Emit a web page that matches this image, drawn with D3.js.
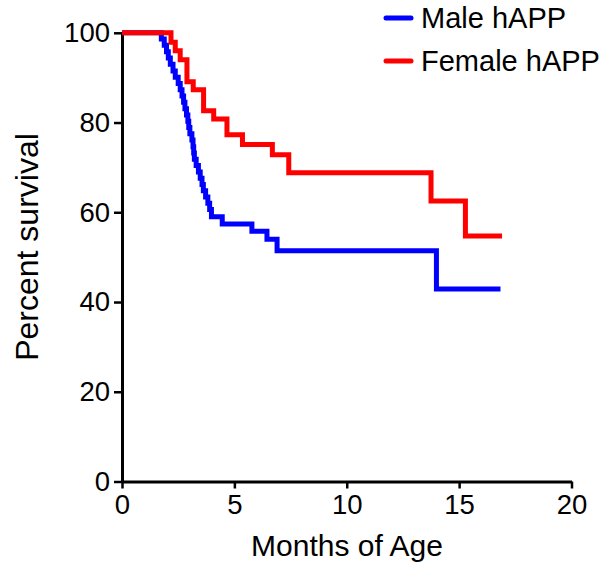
<!DOCTYPE html>
<html>
<head>
<meta charset="utf-8">
<script src="https://cdn.jsdelivr.net/npm/d3@7"></script>
<style>
  html, body { margin: 0; padding: 0; background: #fff; }
  svg { display: block; font-family: "Liberation Sans", Arial, sans-serif; }
</style>
</head>
<body>
<svg id="chart" width="608" height="569"></svg>
<script>
// ---- Data ----
const seriesNames = ["Male hAPP", "Female hAPP"];
const seriesColors = ["#0000ff", "#ff0000"];

const maleMonths = [0, 1.75, 1.88, 1.98, 2.06, 2.15, 2.27, 2.37, 2.50, 2.59, 2.67, 2.74, 2.80, 2.87, 2.93, 2.97,
  3.02, 3.11, 3.16, 3.19, 3.22, 3.30, 3.40, 3.48, 3.56, 3.62, 3.72, 3.82, 3.90, 3.98, 4.46, 5.78, 6.45, 6.90, 13.99, 16.84];
const maleSurvival = [100, 98.6, 97.2, 95.8, 94.4, 93.0, 91.5, 90.1, 88.7, 87.3, 85.9, 84.5, 83.1, 81.7, 80.3, 78.9,
  77.5, 76.1, 74.6, 73.2, 71.8, 70.4, 69.0, 67.6, 66.2, 64.8, 63.4, 62.0, 60.6, 59.0, 57.4, 55.8, 54.0, 51.4, 42.9, 42.9];

const femaleMonths = [0, 2.18, 2.37, 2.59, 2.89, 3.17, 3.63, 4.08, 4.67, 5.36, 6.69, 7.42, 13.75, 15.28, 16.91];
const femaleSurvival = [100, 97.9, 96.0, 94.0, 89.1, 87.3, 82.6, 80.8, 77.3, 75.1, 72.8, 68.8, 62.5, 54.7, 54.7];

const xTicks = [0, 5, 10, 15, 20];
const yTicks = [0, 20, 40, 60, 80, 100];
const xTitle = "Months of Age";
const yTitle = "Percent survival";

// ---- Chart ----
const svg = d3.select("#chart");
const x = d3.scaleLinear().domain([0, 20]).range([122, 571.5]);
const y = d3.scaleLinear().domain([0, 100]).range([481.5, 32.8]);

const xAxis = svg.append("g")
  .attr("transform", `translate(0,${y(0)})`)
  .call(d3.axisBottom(x).tickValues(xTicks).tickSize(7).tickPadding(6).tickSizeOuter(0));
const yAxis = svg.append("g")
  .attr("transform", `translate(${x(0)},0)`)
  .call(d3.axisLeft(y).tickValues(yTicks).tickSize(8).tickPadding(4).tickSizeOuter(0));

[xAxis, yAxis].forEach(g => {
  g.select(".domain").attr("stroke", "#000").attr("stroke-width", 3);
  g.selectAll(".tick line").attr("stroke", "#000").attr("stroke-width", 2.5);
  g.selectAll(".tick text").attr("fill", "#000").attr("font-size", 27.5)
    .attr("font-family", "'Liberation Sans', Arial, sans-serif");
});
xAxis.selectAll(".tick text").attr("dy", "0.72em");

svg.append("text")
  .attr("x", 347).attr("y", 556)
  .attr("text-anchor", "middle")
  .attr("font-size", 30)
  .attr("fill", "#000")
  .text(xTitle);

svg.append("text")
  .attr("transform", `translate(38,247) rotate(-90)`)
  .attr("text-anchor", "middle")
  .attr("font-size", 32)
  .attr("fill", "#000")
  .text(yTitle);

const line = d3.line()
  .x(d => x(d[0]))
  .y(d => y(d[1]))
  .curve(d3.curveStepAfter);

const series = [
  d3.zip(maleMonths, maleSurvival),
  d3.zip(femaleMonths, femaleSurvival)
];

series.forEach((data, i) => {
  svg.append("path")
    .datum(data)
    .attr("fill", "none")
    .attr("stroke", seriesColors[i])
    .attr("stroke-width", 5)
    .attr("stroke-linejoin", "miter")
    .attr("d", line);
});

// Legend
const legend = svg.append("g");
seriesNames.forEach((name, i) => {
  const ly = 18 + i * 43;
  legend.append("line")
    .attr("x1", 386).attr("x2", 411)
    .attr("y1", ly).attr("y2", ly)
    .attr("stroke", seriesColors[i])
    .attr("stroke-width", 5)
    .attr("stroke-linecap", "round");
  legend.append("text")
    .attr("x", 421).attr("y", ly + 10)
    .attr("font-size", 29)
    .attr("fill", "#000")
    .text(name);
});
</script>
</body>
</html>
